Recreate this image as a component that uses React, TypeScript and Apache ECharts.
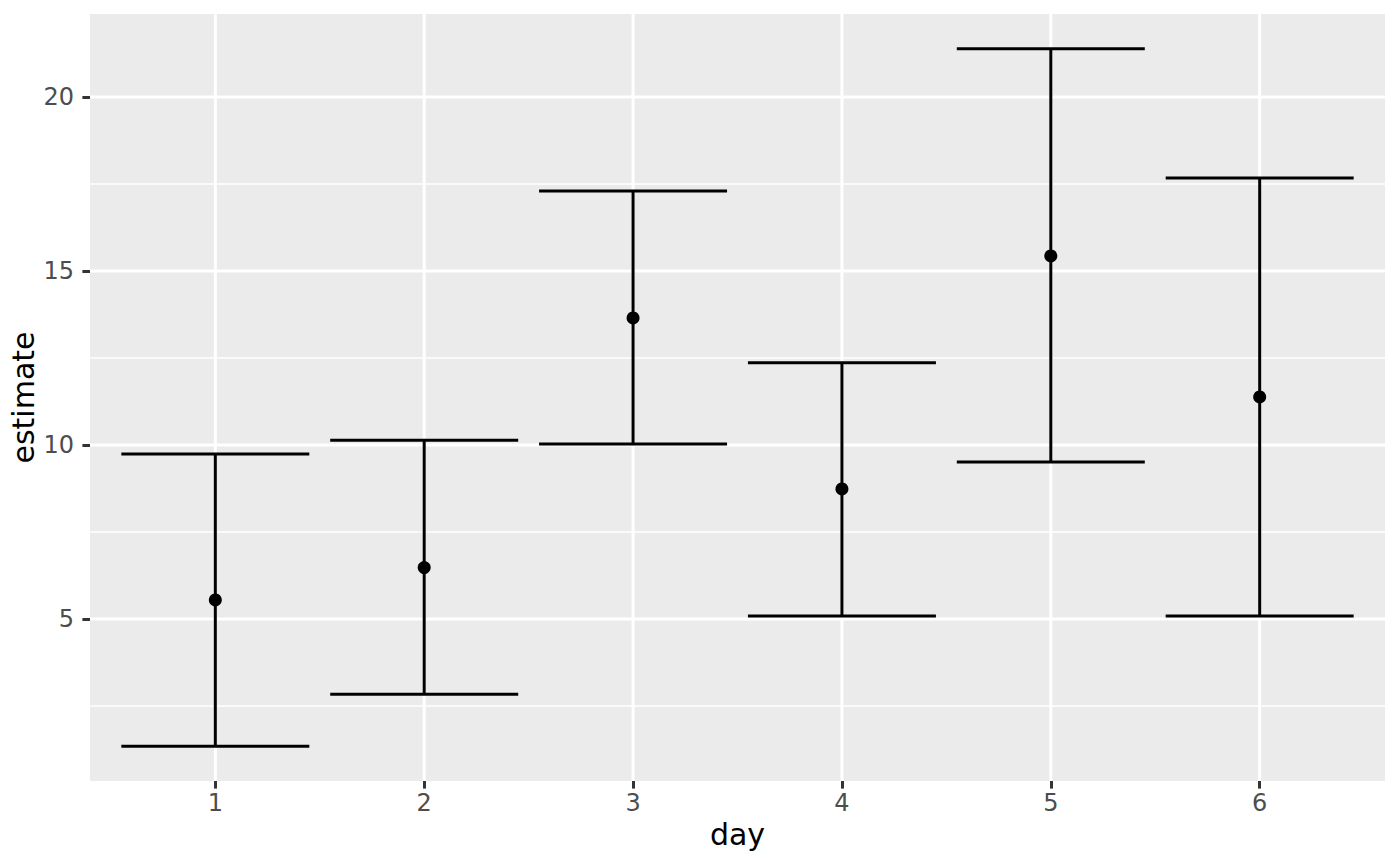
import React, { useEffect, useRef } from "react";
import * as echarts from "echarts";

// estimates with their lower / upper limits
const days = [1, 2, 3, 4, 5, 6];
const estimates = [5.55, 6.48, 13.65, 8.74, 15.43, 11.38];
const lowers = [1.35, 2.84, 10.03, 5.09, 9.51, 5.09];
const uppers = [9.74, 10.14, 17.3, 12.36, 21.38, 17.67];

const yBreaks = [5, 10, 15, 20];
const yMinorBreaks = [2.5, 7.5, 12.5, 17.5];

const capHalfWidth = 0.45;
const FONT = "DejaVu Sans";

// ggplot style expansion: 5% of the data range on y, 0.6 units on a discrete x
const lo = Math.min(...lowers);
const hi = Math.max(...uppers);
const yMin = lo - (hi - lo) * 0.05;
const yMax = hi + (hi - lo) * 0.05;
const xMin = days[0] - 0.6;
const xMax = days[days.length - 1] + 0.6;

const App = () => {
  const chartRef = useRef<HTMLDivElement>(null);

  useEffect(() => {
    if (!chartRef.current) return;
    const chart = echarts.init(chartRef.current, null, { renderer: "svg" });

    const hLine = (params: any, api: any) => {
      const cs = params.coordSys;
      const y = api.coord([api.value(0), api.value(1)])[1];
      return {
        type: "line",
        shape: { x1: cs.x, y1: y, x2: cs.x + cs.width, y2: y },
        style: { stroke: "#FFFFFF", lineWidth: api.value(2) },
      };
    };
    const vLine = (params: any, api: any) => {
      const cs = params.coordSys;
      const x = api.coord([api.value(0), api.value(1)])[0];
      return {
        type: "line",
        shape: { x1: x, y1: cs.y, x2: x, y2: cs.y + cs.height },
        style: { stroke: "#FFFFFF", lineWidth: api.value(2) },
      };
    };

    const option: any = {
      animation: false,
      grid: {
        left: 90,
        right: 15,
        top: 14,
        bottom: 85,
        show: true,
        backgroundColor: "#EBEBEB",
        borderWidth: 0,
        outerBoundsMode: "none",
        containLabel: false,
      },
      xAxis: {
        type: "value",
        min: xMin,
        max: xMax,
        name: "day",
        nameLocation: "middle",
        nameGap: 38,
        nameMoveOverlap: false,
        nameTextStyle: { fontFamily: FONT, fontSize: 30, color: "#000000" },
        axisLine: { show: false },
        splitLine: { show: false },
        axisTick: {
          show: true,
          length: 7.6,
          customValues: days,
          lineStyle: { color: "#333333", width: 3 },
        },
        axisLabel: {
          customValues: days,
          margin: 10,
          fontFamily: FONT,
          fontSize: 24,
          color: "#4D4D4D",
        },
      },
      yAxis: {
        type: "value",
        min: yMin,
        max: yMax,
        name: "estimate",
        nameLocation: "middle",
        nameGap: 52,
        nameMoveOverlap: false,
        nameTextStyle: { fontFamily: FONT, fontSize: 30, color: "#000000" },
        axisLine: { show: false },
        splitLine: { show: false },
        axisTick: {
          show: true,
          length: 7.6,
          customValues: yBreaks,
          lineStyle: { color: "#333333", width: 3 },
        },
        axisLabel: {
          customValues: yBreaks,
          margin: 16,
          fontFamily: FONT,
          fontSize: 24,
          color: "#4D4D4D",
        },
      },
      series: [
        {
          type: "custom",
          silent: true,
          z: 1,
          renderItem: hLine,
          encode: { x: 0, y: 1 },
          data: [
            ...yMinorBreaks.map((v) => [days[0], v, 1.5]),
            ...yBreaks.map((v) => [days[0], v, 3]),
          ],
        },
        {
          type: "custom",
          silent: true,
          z: 1,
          renderItem: vLine,
          encode: { x: 0, y: 1 },
          data: days.map((d) => [d, yBreaks[0], 3]),
        },
        {
          type: "custom",
          silent: true,
          z: 2,
          encode: { x: 0, y: [1, 2] },
          data: days.map((d, i) => [d, lowers[i], uppers[i]]),
          renderItem: (params: any, api: any) => {
            const x = api.value(0);
            const pLo = api.coord([x, api.value(1)]);
            const pHi = api.coord([x, api.value(2)]);
            const xl = api.coord([x - capHalfWidth, api.value(1)])[0];
            const xr = api.coord([x + capHalfWidth, api.value(1)])[0];
            const style = { stroke: "#000000", lineWidth: 3 };
            return {
              type: "group",
              children: [
                { type: "line", shape: { x1: pLo[0], y1: pLo[1], x2: pHi[0], y2: pHi[1] }, style },
                { type: "line", shape: { x1: xl, y1: pHi[1], x2: xr, y2: pHi[1] }, style },
                { type: "line", shape: { x1: xl, y1: pLo[1], x2: xr, y2: pLo[1] }, style },
              ],
            };
          },
        },
        {
          type: "scatter",
          silent: true,
          z: 3,
          symbol: "circle",
          symbolSize: 13,
          itemStyle: { color: "#000000", opacity: 1 },
          data: days.map((d, i) => [d, estimates[i]]),
        },
      ],
    };

    chart.setOption(option);
    return () => {
      chart.dispose();
    };
  }, []);

  return (
    <div
      ref={chartRef}
      style={{ position: "absolute", left: 0, top: 0, width: 1400, height: 866 }}
    />
  );
};

export default App;
